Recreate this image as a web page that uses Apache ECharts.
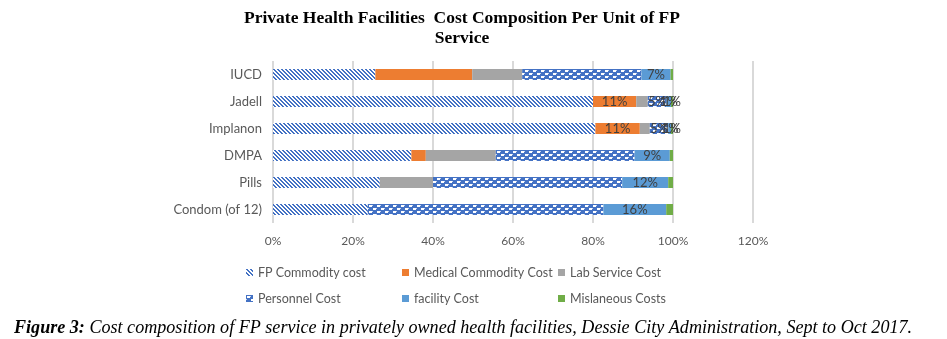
<!DOCTYPE html>
<html>
<head>
<meta charset="utf-8">
<script src="https://cdn.jsdelivr.net/npm/echarts@6/dist/echarts.min.js"></script>
<style>
  html, body { margin: 0; padding: 0; background: #fff; }
  #chart { width: 947px; height: 339px; }
</style>
</head>
<body>
<div id="chart"></div>
<script>
// Service types, listed top to bottom
const categories = ['IUCD', 'Jadell', 'Implanon', 'DMPA', 'Pills', 'Condom (of 12)'];

// Share of unit cost (%) for each component, same order as categories
const fpCommodity      = [25.6, 80.0, 80.6, 34.6, 26.7, 23.7];
const medicalCommodity = [24.2, 10.8, 11.1,  3.6,  0.0,  0.0];
const labService       = [12.5,  2.9,  2.5, 17.5, 13.3,  0.0];
const personnel        = [29.8,  4.6,  4.6, 34.7, 47.3, 58.9];
const facility         = [ 7.3,  1.2,  0.7,  8.8, 11.5, 15.7];
const misc             = [ 0.6,  0.5,  0.5,  0.8,  1.2,  1.7];

// Which bars carry a value label, per component
const labelMedical   = [false, true, true, false, false, false];
const labelPersonnel = [false, true, true, false, false, false];
const labelFacility  = [true, true, true, true, true, true];
const labelMisc      = [false, true, true, false, false, false];

const xTicks = [0, 20, 40, 60, 80, 100, 120];

const BLUE = '#4472C4';

// Diagonal hatch for FP commodity
function stripePattern() {
  const c = document.createElement('canvas');
  c.width = 4; c.height = 4;
  const g = c.getContext('2d');
  g.fillStyle = '#ffffff';
  g.fillRect(0, 0, 4, 4);
  g.fillStyle = BLUE;
  for (let i = 0; i < 4; i++) {
    g.fillRect(i, i, 1, 1);
    g.fillRect((i + 1) % 4, i, 1, 1);
  }
  return { image: c, repeat: 'repeat' };
}

// Chain-like weave for personnel cost
function weavePattern() {
  const c = document.createElement('canvas');
  c.width = 8; c.height = 6;
  const g = c.getContext('2d');
  g.fillStyle = BLUE;
  g.fillRect(0, 0, 8, 6);
  g.fillStyle = '#ffffff';
  g.fillRect(1, 1, 3, 2);
  g.fillRect(5, 4, 3, 2);
  g.fillStyle = '#c9d6ef';
  g.fillRect(4, 1, 1, 1);
  g.fillRect(0, 4, 1, 1);
  return { image: c, repeat: 'repeat' };
}

const font = 'Lato, "Liberation Sans", sans-serif';

const labelStyle = {
  show: true,
  position: 'inside',
  color: '#404040',
  fontSize: 13,
  fontFamily: font,
  formatter: p => Math.round(p.value) + '%'
};

function withLabels(values, flags) {
  return values.map((v, i) => flags ? { value: v, label: { show: flags[i] } } : v);
}

function barSeries(name, values, color, flags) {
  return {
    name: name,
    type: 'bar',
    stack: 'cost',
    barWidth: 11,
    itemStyle: { color: color },
    label: flags ? labelStyle : { show: false },
    emphasis: { disabled: true },
    data: withLabels(values, flags)
  };
}

const legendText = { color: '#595959', fontSize: 12.5, fontFamily: font };

function legendColumn(left, names) {
  return {
    orient: 'vertical',
    left: left,
    top: 261,
    itemWidth: 7,
    itemHeight: 7,
    itemGap: 13,
    icon: 'rect',
    textStyle: legendText,
    selectedMode: false,
    data: names
  };
}

const chart = echarts.init(document.getElementById('chart'), null, { renderer: 'canvas' });

chart.setOption({
  animation: false,
  backgroundColor: '#ffffff',
  title: [
    {
      text: 'Private Health Facilities  Cost Composition Per Unit of FP\nService',
      left: 457,
      top: 3,
      textAlign: 'center',
      textStyle: {
        fontFamily: '"Liberation Serif", "DejaVu Serif", serif',
        fontWeight: 'bold',
        fontSize: 17.5,
        lineHeight: 20,
        color: '#000000',
        align: 'center'
      }
    },
    {
      text: '{b|Figure 3:} Cost composition of FP service in privately owned health facilities, Dessie City Administration, Sept to Oct 2017.',
      left: 9,
      top: 314,
      textStyle: {
        fontFamily: '"Liberation Serif", serif',
        fontStyle: 'italic',
        fontWeight: 'normal',
        fontSize: 18.1,
        color: '#000000',
        rich: {
          b: {
            fontFamily: '"Liberation Serif", serif',
            fontStyle: 'italic',
            fontWeight: 'bold',
            fontSize: 18.1,
            color: '#000000'
          }
        }
      }
    }
  ],
  legend: [
    legendColumn(241, ['FP Commodity cost', 'Personnel Cost']),
    legendColumn(397, ['Medical Commodity Cost', 'facility Cost']),
    legendColumn(553, ['Lab Service Cost', 'Mislaneous Costs'])
  ],
  grid: { left: 273, top: 61, width: 480, height: 162 },
  xAxis: {
    type: 'value',
    min: xTicks[0],
    max: xTicks[xTicks.length - 1],
    interval: xTicks[1] - xTicks[0],
    axisLine: { show: false },
    axisTick: { show: false },
    splitLine: { lineStyle: { color: '#d9d9d9', width: 2 } },
    axisLabel: {
      formatter: '{value}%',
      color: '#595959',
      fontSize: 12,
      fontFamily: font,
      margin: 12
    }
  },
  yAxis: {
    type: 'category',
    inverse: true,
    data: categories,
    axisLine: { show: false },
    axisTick: { show: false },
    axisLabel: {
      color: '#595959',
      fontSize: 13,
      fontFamily: font,
      margin: 11
    }
  },
  series: [
    barSeries('FP Commodity cost', fpCommodity, stripePattern()),
    barSeries('Medical Commodity Cost', medicalCommodity, '#ED7D31', labelMedical),
    barSeries('Lab Service Cost', labService, '#A5A5A5'),
    barSeries('Personnel Cost', personnel, weavePattern(), labelPersonnel),
    barSeries('facility Cost', facility, '#5B9BD5', labelFacility),
    barSeries('Mislaneous Costs', misc, '#70AD47', labelMisc)
  ]
});
</script>
</body>
</html>
